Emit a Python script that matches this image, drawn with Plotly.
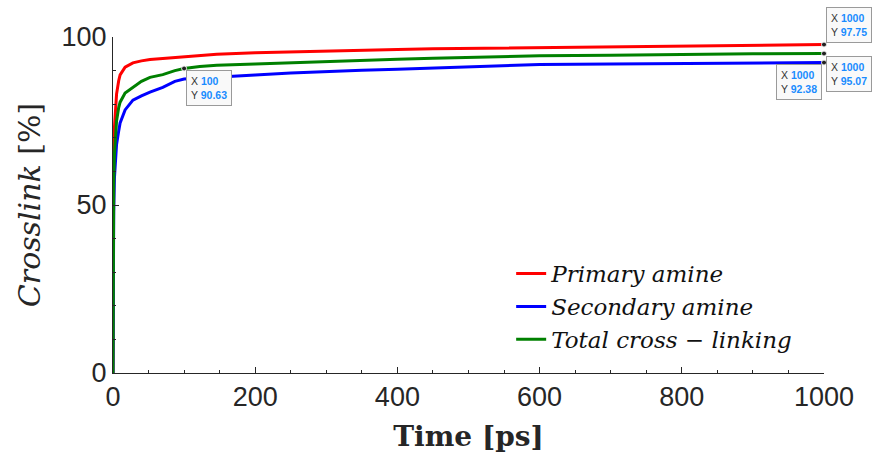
import plotly.graph_objects as go

# Cross-link conversion over simulation time
time_ps = [0, 0.5, 1, 2, 3, 5, 8, 10, 17, 28, 40, 52, 70, 87, 100, 122, 146,
           200, 250, 300, 350, 400, 450, 500, 550, 600, 700, 800, 900, 1000]
primary = [0, 50, 65, 73, 77, 83, 87, 88.7, 91, 92.3, 92.9, 93.3, 93.6, 93.9, 94.1, 94.5,
           94.9, 95.3, 95.6, 95.9, 96.1, 96.3, 96.5, 96.6, 96.7, 96.9, 97.1, 97.4, 97.6,
           97.75]
secondary = [0, 35, 48, 58, 63, 68, 72, 74.4, 78.3, 81.2, 82.5, 83.6, 85, 86.8, 87.5, 87.8,
             88.1, 88.7, 89.3, 89.8, 90.1, 90.4, 90.8, 91.2, 91.6, 91.8, 92.0, 92.2, 92.3,
             92.38]
total = [0, 42, 56, 65, 70, 75, 79, 80.6, 83.3, 85, 86.8, 88, 88.8, 90.0, 90.63, 91.2,
         91.6, 92.0, 92.4, 92.8, 93.1, 93.4, 93.7, 94.0, 94.2, 94.4, 94.6, 94.85, 95.0,
         95.07]

series_names = ["Primary amine", "Secondary amine", "Total cross \u2212 linking"]
series_colors = ["#ff0000", "#0000ff", "#008000"]
series_values = [primary, secondary, total]

# Data tips: (series index, time index) and their box placement
tips = [(2, 14), (0, 29), (2, 29), (1, 29)]
tip_place = {  # xanchor, yanchor, xshift, yshift
    (2, 14): ("left", "top", 2, -2),
    (0, 29): ("left", "bottom", 2, 2),
    (2, 29): ("left", "top", 2, -2),
    (1, 29): ("right", "top", -2, -1),
}

fig = go.Figure()
for name, vals, col in zip(series_names, series_values, series_colors):
    fig.add_trace(go.Scatter(
        x=time_ps, y=vals, mode="lines", name="<i>" + name + "</i>",
        line=dict(color=col, width=3),
    ))

tip_x = [time_ps[j] for _, j in tips]
tip_y = [series_values[i][j] for i, j in tips]
fig.add_trace(go.Scatter(
    x=tip_x, y=tip_y, mode="markers", showlegend=False, hoverinfo="skip",
    marker=dict(color="#222222", size=5, line=dict(color="#f0f0f0", width=1)),
    cliponaxis=False,
))

annotations = []
blue = "#1a8cff"
for (i, j) in tips:
    xa, ya, xs, ys = tip_place[(i, j)]
    xv = time_ps[j]
    yv = series_values[i][j]
    txt = (f"X <span style='color:{blue}'><b>{xv:g}</b></span><br>"
           f"Y <span style='color:{blue}'><b>{yv:.2f}</b></span>")
    annotations.append(dict(
        x=xv, y=yv, xref="x", yref="y", text=txt, showarrow=False,
        xanchor=xa, yanchor=ya, xshift=xs, yshift=ys, align="left",
        font=dict(family="Arial, Liberation Sans, sans-serif", size=10.5, color="#333333"),
        bgcolor="#f9f9f9", bordercolor="#9a9a9a", borderwidth=1, borderpad=4,
    ))

axis_common = dict(
    showline=True, linecolor="#262626", linewidth=1, mirror=False,
    ticks="inside", ticklen=6, tickcolor="#262626", showgrid=False, zeroline=False,
    tickfont=dict(family="Arial, Liberation Sans, sans-serif", size=27, color="#262626"),
)

fig.update_layout(
    width=872, height=459,
    margin=dict(l=113, r=48, t=37, b=86),
    paper_bgcolor="white", plot_bgcolor="white",
    xaxis=dict(
        range=[0, 1000], tickvals=[0, 200, 400, 600, 800, 1000],
        minor=dict(dtick=50, ticks="inside", ticklen=3, tickcolor="#262626"),
        title=dict(text="<b>Time [ps]</b>", standoff=14,
                   font=dict(family="DejaVu Serif, Liberation Serif, serif", size=28,
                             color="#262626")),
        **axis_common,
    ),
    yaxis=dict(
        range=[0, 100], tickvals=[0, 50, 100],
        minor=dict(dtick=10, ticks="inside", ticklen=3, tickcolor="#262626"),
        title=dict(text="<i>Crosslink</i> [%]", standoff=12,
                   font=dict(family="DejaVu Serif, Liberation Serif, serif", size=30,
                             color="#262626")),
        **axis_common,
    ),
    legend=dict(
        x=0.56, y=0.36, xanchor="left", yanchor="top",
        bgcolor="rgba(255,255,255,0)", borderwidth=0,
        font=dict(family="DejaVu Serif, Liberation Serif, serif", size=23, color="#111111"),
        itemwidth=30, tracegroupgap=0,
    ),
    annotations=annotations,
    showlegend=True,
)

fig.write_html("out.html")
